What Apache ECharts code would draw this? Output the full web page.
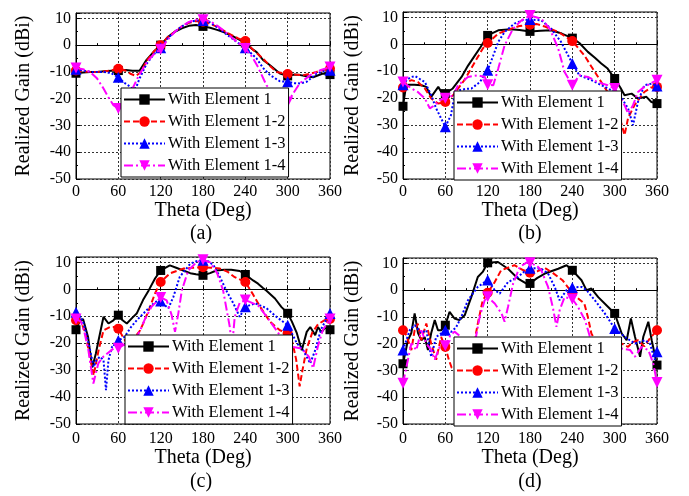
<!DOCTYPE html>
<html><head><meta charset="utf-8">
<script src="https://cdn.jsdelivr.net/npm/echarts/dist/echarts.min.js"></script>
<style>html,body{margin:0;padding:0;background:#fff}#c{width:689px;height:496px}</style>
</head><body><div id="c"></div>
<script>
const seriesNames = ['With Element 1','With Element 1-2','With Element 1-3','With Element 1-4'];
const markerTheta = [0,60,120,180,240,300,360];
const panelLabels = ['(a)','(b)','(c)','(d)'];

// Panel (a)
const a1 = [[0,-10.5],[10,-10.2],[20,-10],[30,-10],[40,-9.8],[50,-9.6],[60,-9.5],[70,-9.3],[80,-9.6],[90,-9.6],[100,-5.5],[110,-2.5],[120,0],[130,3],[140,5],[150,6.3],[160,7.2],[170,7.5],[180,7],[190,6.5],[200,5.7],[210,4.8],[220,3.6],[230,2.2],[240,0.8],[250,-1.5],[256,-2.6],[265,-5.5],[275,-7.5],[289,-10.6],[300,-11.5],[310,-11],[318,-11.2],[325,-11.5],[336,-12],[350,-10.6],[360,-11]];
const a2 = [[0,-9.5],[10,-9.8],[20,-10],[30,-10],[40,-9.8],[50,-9.4],[60,-8.8],[70,-9.5],[78,-10.8],[85,-11.5],[92,-10],[100,-6],[110,-2.5],[120,0],[130,3],[140,5],[150,7],[160,8.3],[170,9],[180,8.7],[190,8],[200,6.8],[210,5.3],[220,3.8],[230,2.5],[240,1.5],[250,-1.5],[265,-5],[275,-7.8],[284,-10],[300,-10.8],[310,-11],[322,-11.2],[330,-10.8],[341,-10],[350,-9.3],[360,-8.8]];
const a3 = [[0,-9],[10,-9.5],[20,-10],[30,-10],[40,-10],[50,-10.5],[60,-12],[68,-14],[74,-15],[80,-16.3],[85,-16],[90,-12.5],[100,-7],[110,-3.5],[120,-1],[130,2.5],[140,5],[150,7],[160,8.5],[170,9.2],[180,9.2],[190,8.5],[200,6.7],[210,4.7],[220,2.7],[230,0.8],[240,-1],[248,-3],[256,-5],[265,-8.5],[275,-11.2],[289,-13.5],[300,-13.7],[310,-14.2],[318,-14.3],[327,-13.7],[341,-10.6],[350,-9.8],[360,-9.4]];
const a4 = [[0,-8.5],[10,-9],[20,-10],[30,-12.5],[39,-16.2],[46,-19.5],[53,-22.4],[60,-23.7],[69,-21.2],[79,-16.8],[88,-11.9],[100,-6.5],[110,-3.5],[120,-1.5],[130,2],[140,5],[150,7],[160,8.7],[170,9.5],[180,9.5],[190,9],[200,7.3],[210,5.3],[220,3],[230,0.8],[240,-1.3],[250,-4.5],[258,-8.2],[270,-15],[280,-18],[290,-20.5],[300,-21.2],[308,-18],[317,-14.3],[332,-11.2],[346,-9.4],[360,-8.2]];

// Panel (b)
const b1 = [[0,-23],[4,-16],[8,-15],[16,-15],[26,-15.2],[33,-15.8],[40,-19.5],[50,-15.8],[57,-18.9],[60,-18.3],[70,-16.5],[83,-12.1],[92,-8],[102,-4.1],[110,-1],[120,3.3],[135,5.2],[153,5.6],[165,5.3],[180,4.8],[195,5],[210,5.2],[225,4],[240,2.3],[250,0.5],[262,-2.8],[272,-5],[281,-7.1],[290,-9],[300,-12.7],[308,-16],[314,-18.9],[324,-18.3],[333,-20.1],[345,-19.5],[352,-21.4],[360,-22]];
const b2 = [[0,-16],[6,-14],[12,-13.3],[21,-14],[31,-16.4],[40,-20.1],[50,-22],[60,-21.4],[71,-18.9],[87,-13.3],[102,-6.5],[113,-1.6],[120,0.5],[135,4],[153,5.8],[165,6.8],[180,7.3],[190,7.5],[201,6.6],[220,4.6],[240,1.2],[257,-4.1],[272,-10.3],[290,-17.7],[300,-21],[308,-28],[314,-33.7],[319,-27.4],[328,-22.6],[342,-17.7],[352,-16],[360,-15.8]];
const b3 = [[0,-15],[6,-13],[12,-12.1],[17,-11.8],[31,-14],[40,-18.9],[47,-23.8],[54,-27.5],[60,-30.6],[68,-26.3],[73,-18.9],[80,-17],[90,-16.5],[97,-16.4],[109,-14],[120,-9.6],[128,-4.1],[135,0.9],[144,4.6],[158,7.7],[170,9],[180,9.2],[196,8.9],[210,5.8],[224,0.9],[240,-7.1],[250,-11.5],[267,-13.3],[286,-15.8],[300,-17.7],[310,-20],[319,-23.8],[326,-30],[333,-21.4],[342,-15.2],[352,-14.6],[360,-15.5]];
const b4 = [[0,-14],[12,-16.4],[21,-17.7],[31,-20.1],[38,-23.8],[45,-22.6],[52,-20.7],[60,-20],[71,-19],[78,-15.2],[92,-12.1],[106,-11.5],[116,-12.1],[120,-15],[128,-15.2],[135,-9],[144,-0.4],[156,5.8],[168,8.9],[180,10.7],[196,9.5],[208,5.8],[220,-1.6],[229,-10.3],[240,-15.2],[250,-11.5],[262,-12.1],[276,-14],[290,-15.2],[300,-16.4],[314,-22.6],[319,-25.7],[326,-22.6],[333,-17.7],[342,-15.8],[360,-13.3]];

// Panel (c)
const c1 = [[0,-15],[5,-12],[10,-11],[17,-17.6],[23,-29],[28,-24],[32,-18.9],[39,-10.2],[46,-12.7],[53,-11.5],[60,-9.6],[66,-11.5],[72,-12.7],[80,-10.5],[86,-9],[95,-4],[103,-0.4],[112,4],[120,7],[133,8.9],[142,8],[152,7],[162,6],[170,5.6],[180,5.2],[190,6],[199,7],[210,7.3],[220,7.3],[232,6.8],[240,5.5],[251,3.3],[258,2.1],[265,0.5],[270,-0.5],[282,-3.4],[291,-6.5],[300,-8.9],[306,-12],[313,-16.3],[320,-22.6],[327,-15.8],[332,-14],[339,-17],[343,-14],[348,-16],[352,-14.5],[357,-14.3],[360,-15]];
const c2 = [[0,-11.5],[7,-12],[13,-16],[19,-24],[25,-32],[32,-22.6],[39,-15.2],[48,-14],[55,-14],[60,-14.6],[65,-17],[72,-20],[80,-19],[91,-15.2],[98,-11],[105,-6.5],[112,-1.5],[120,2.7],[133,5.9],[152,7.7],[165,8],[180,8.2],[192,8],[204,7.7],[215,6.5],[225,4.5],[240,2.7],[250,-1.5],[261,-6.5],[275,-12],[289,-15.2],[300,-16.3],[307,-20],[312,-26],[317,-36],[321,-30],[327,-22],[335,-16],[343,-13],[352,-11.5],[360,-11]];
const c3 = [[0,-8.5],[5,-10],[10,-12],[15,-17],[20,-22.6],[25,-28.8],[29,-26.3],[34,-25],[39,-26.3],[42.5,-37.4],[46,-26.3],[51,-21.4],[60,-19],[69,-17.6],[78,-14],[86,-11.5],[100,-7.8],[112,-4.7],[120,-4.3],[126,-5.9],[131,-7],[138,-2.8],[147,4.6],[162,9.5],[172,10.6],[180,10.8],[188,10.3],[195,8.9],[204,4.6],[213,-0.4],[223,-5.2],[232,-10.2],[240,-6.5],[254,-5.2],[270,-7],[284,-10.2],[300,-13.3],[313,-20],[322,-22.6],[332,-27.5],[339,-22.6],[347,-15],[357,-10],[360,-9]];
const c4 = [[0,-11],[7,-12],[12,-16],[17.5,-22.6],[24.6,-35],[31.6,-27.5],[38.7,-25],[53,-22],[60,-21.9],[67,-20.7],[75,-20.5],[83,-19.5],[91,-15.2],[98,-10.9],[107,-6.5],[120,-3],[128.5,-4.1],[135.6,-9.6],[140.3,-15.8],[145,-9],[150,-0.4],[159,7],[171,10.1],[180,11],[190,10],[200,6],[208.5,-0.4],[218,-14],[221,-22],[225,-10.2],[232,-5],[240,-4],[258,-6],[270,-10],[284,-15.2],[300,-21.3],[310,-21.5],[320,-22],[330,-25],[336,-29.3],[343,-21],[350,-15],[360,-11]];

// Panel (d)
const d1 = [[0,-27.5],[7,-18.7],[11.8,-16],[16.5,-8.7],[21.3,-16],[26,-18.7],[30.7,-17.5],[35.4,-22.4],[40,-16],[45,-11.2],[49.6,-15],[54,-15],[60,-13.1],[66,-8.1],[73,-10.6],[80,-11.2],[87.4,-9.4],[96.8,-2.6],[106,4.9],[113,6.8],[120,10.2],[134.6,10.5],[148.8,8],[163,4.3],[175,2.4],[180,2.5],[190,4.5],[201,6.2],[220,8],[231.8,9.3],[240,7.4],[253,3.7],[260,0],[267,0.6],[276.7,-2.6],[290.8,-6.3],[300,-8.7],[310,-16.2],[317,-18.7],[323,-10.6],[328.8,-17.4],[336,-24.9],[340.6,-17.4],[347.7,-11.8],[352.5,-18.7],[360,-28]];
const d2 = [[0,-15],[5,-17],[11.8,-22.4],[16.5,-15],[21,-12.5],[26,-18.7],[33,-12.5],[40,-20],[47,-26],[54,-17.5],[60,-21.2],[65,-26],[69,-29],[75,-30],[85,-28],[95,-24],[101.6,-18.7],[106,-12.5],[113,-3.8],[120,-1],[130,3],[139,7.4],[158,9.3],[170,7.5],[180,6.5],[190,7],[201,8.3],[212,6.5],[226,3.7],[240,-1],[250,-3.5],[257,-5],[262,-10],[267,-16.2],[275,-20],[290,-21],[300,-20.5],[310,-20],[319,-21.2],[325,-19.5],[333,-18.7],[342,-21],[350,-18],[360,-15]];
const d3 = [[0,-22.4],[9.5,-15],[16.5,-13.1],[26,-16],[33,-15],[40,-24.9],[47,-17.5],[60,-15],[68,-15.6],[75,-14],[82.7,-10],[92,-3.8],[106,1.2],[120,3.8],[130,0],[137,-1.3],[148.8,3],[163,4.9],[172,7],[180,8.2],[190,8.2],[197,7.8],[205.6,6.2],[215,1.2],[222,-3.8],[231.8,0],[240,1],[253,1.2],[260,0],[272,-3.8],[286,-8.7],[300,-14.3],[314.6,-17.5],[328.8,-20],[343,-18.7],[350,-20],[357,-26],[360,-23]];
const d4 = [[0,-34.8],[7,-26],[11.8,-19.9],[18.9,-22.4],[26,-15],[33,-19.9],[40,-22.4],[45,-26],[52,-21.2],[60,-20.8],[67,-17],[73,-15.5],[80,-17],[90,-21],[101.6,-20],[108.7,-10],[115.8,-3.8],[120,-2.5],[130,-5],[139.6,-8.7],[144,-11.8],[148.8,-6.3],[156,2.4],[165.4,8.6],[175,10.3],[180,10.2],[190,9],[196,7.4],[205.6,1.2],[212.7,-6.9],[217.5,-13.7],[222,-7.5],[229,-2.6],[240,-3.3],[248,-6.3],[258,-11.2],[265,-17.5],[280,-22],[300,-22],[310,-21.8],[322,-22.4],[328.8,-24.9],[338,-21.2],[347.7,-22.4],[354.7,-27.4],[360,-34.5]];

const panels = [[a1,a2,a3,a4],[b1,b2,b3,b4],[c1,c2,c3,c4],[d1,d2,d3,d4]];

const FONT = "'Liberation Serif', 'Times New Roman', serif";
const grids = [
  {left:76, top:13, width:254, height:166},
  {left:403, top:12, width:254, height:167},
  {left:76, top:257, width:254, height:167},
  {left:403, top:258, width:254, height:166}
];
const legendPos = [{left:121, top:88},{left:454, top:91},{left:125, top:335},{left:454, top:337}];
const captionPos = [[201,234],[530,234],[201,482],[530,482]];
const styles = [
  {color:'#000000', type:'solid', symbol:'rect', size:9},
  {color:'#ff0000', type:[6,3], symbol:'circle', size:10},
  {color:'#0000ff', type:[2,2], symbol:'triangle', size:11},
  {color:'#ff00ff', type:[9,3,2,3], symbol:'path://M0,0L20,0L10,17Z', size:11}
];

function items(arr){
  return arr.map(p => markerTheta.indexOf(p[0]) >= 0 ? {value:p} : {value:p, symbol:'none'});
}

const series = [];
panels.forEach((set, gi) => {
  set.forEach((arr, si) => {
    const st = styles[si];
    series.push({
      name: seriesNames[si], type:'line', xAxisIndex:gi, yAxisIndex:gi,
      data: items(arr), symbol: st.symbol, symbolSize: st.size, showSymbol:true, showAllSymbol:true,
      lineStyle:{color:st.color, width:2, type:st.type},
      itemStyle:{color:st.color, borderWidth:0},
      emphasis:{disabled:true}, animation:false, z: 2 + si
    });
  });
});

const xAxes = grids.map((g,i) => ({
  gridIndex:i, type:'value', min:0, max:360, interval:60,
  name:'Theta (Deg)', nameLocation:'middle', nameGap: i < 2 ? 20 : 22,
  nameTextStyle:{fontFamily:FONT, fontSize:20, color:'#000'},
  axisLabel:{fontFamily:FONT, fontSize:16, color:'#000', margin: i < 2 ? 5 : 7},
  axisLine:{show:true, lineStyle:{color:'#000', width:1}},
  axisTick:{show:true, inside:true, length:4, lineStyle:{color:'#000'}},
  minorTick:{show:true, splitNumber:2, length:2, lineStyle:{color:'#000'}},
  splitLine:{show:true, lineStyle:{color:'#333', width:1, type:[2,2]}}
}));
const yAxes = grids.map((g,i) => ({
  gridIndex:i, type:'value', min:-50, max:12, interval:10,
  name:'Realized Gain (dBi)', nameLocation:'middle', nameGap: i % 2 === 0 ? 42 : 40,
  nameTextStyle:{fontFamily:FONT, fontSize:20, color:'#000'},
  axisLabel:{fontFamily:FONT, fontSize:16, color:'#000', margin:5, showMaxLabel:false,
    formatter: v => v > 10 ? '' : String(v)},
  axisLine:{show:true, lineStyle:{color:'#000', width:1}},
  axisTick:{show:true, inside:true, length:4, lineStyle:{color:'#000'}},
  minorTick:{show:true, splitNumber:2, length:2, lineStyle:{color:'#000'}},
  splitLine:{show:true, lineStyle:{color:'#333', width:1, type:[2,2]}}
}));

const legends = legendPos.map(p => ({
  left:p.left, top:p.top, orient:'vertical', data:seriesNames.slice(),
  itemWidth:41, itemHeight:13, itemGap:5, padding:[3,3,3,2],
  backgroundColor:'#fff', borderColor:'#000', borderWidth:1, borderRadius:0,
  textStyle:{fontFamily:FONT, fontSize:16.5, lineHeight:16, color:'#000', padding:[0,0,0,-2]},
  selectedMode:false, z:10
}));

const chart = echarts.init(document.getElementById('c'), null, {renderer:'canvas'});
chart.setOption({
  animation:false,
  backgroundColor:'#fff',
  grid: grids.map(g => Object.assign({show:true, borderColor:'#000', borderWidth:1, backgroundColor:'transparent'}, g)),
  xAxis: xAxes, yAxis: yAxes, legend: legends, series: series,
  graphic: panelLabels.map((t,i) => ({type:'text', x:captionPos[i][0], y:captionPos[i][1],
    style:{text:t, font:'20px ' + FONT, fill:'#000', textAlign:'center', textVerticalAlign:'middle'}}))
});
</script></body></html>
